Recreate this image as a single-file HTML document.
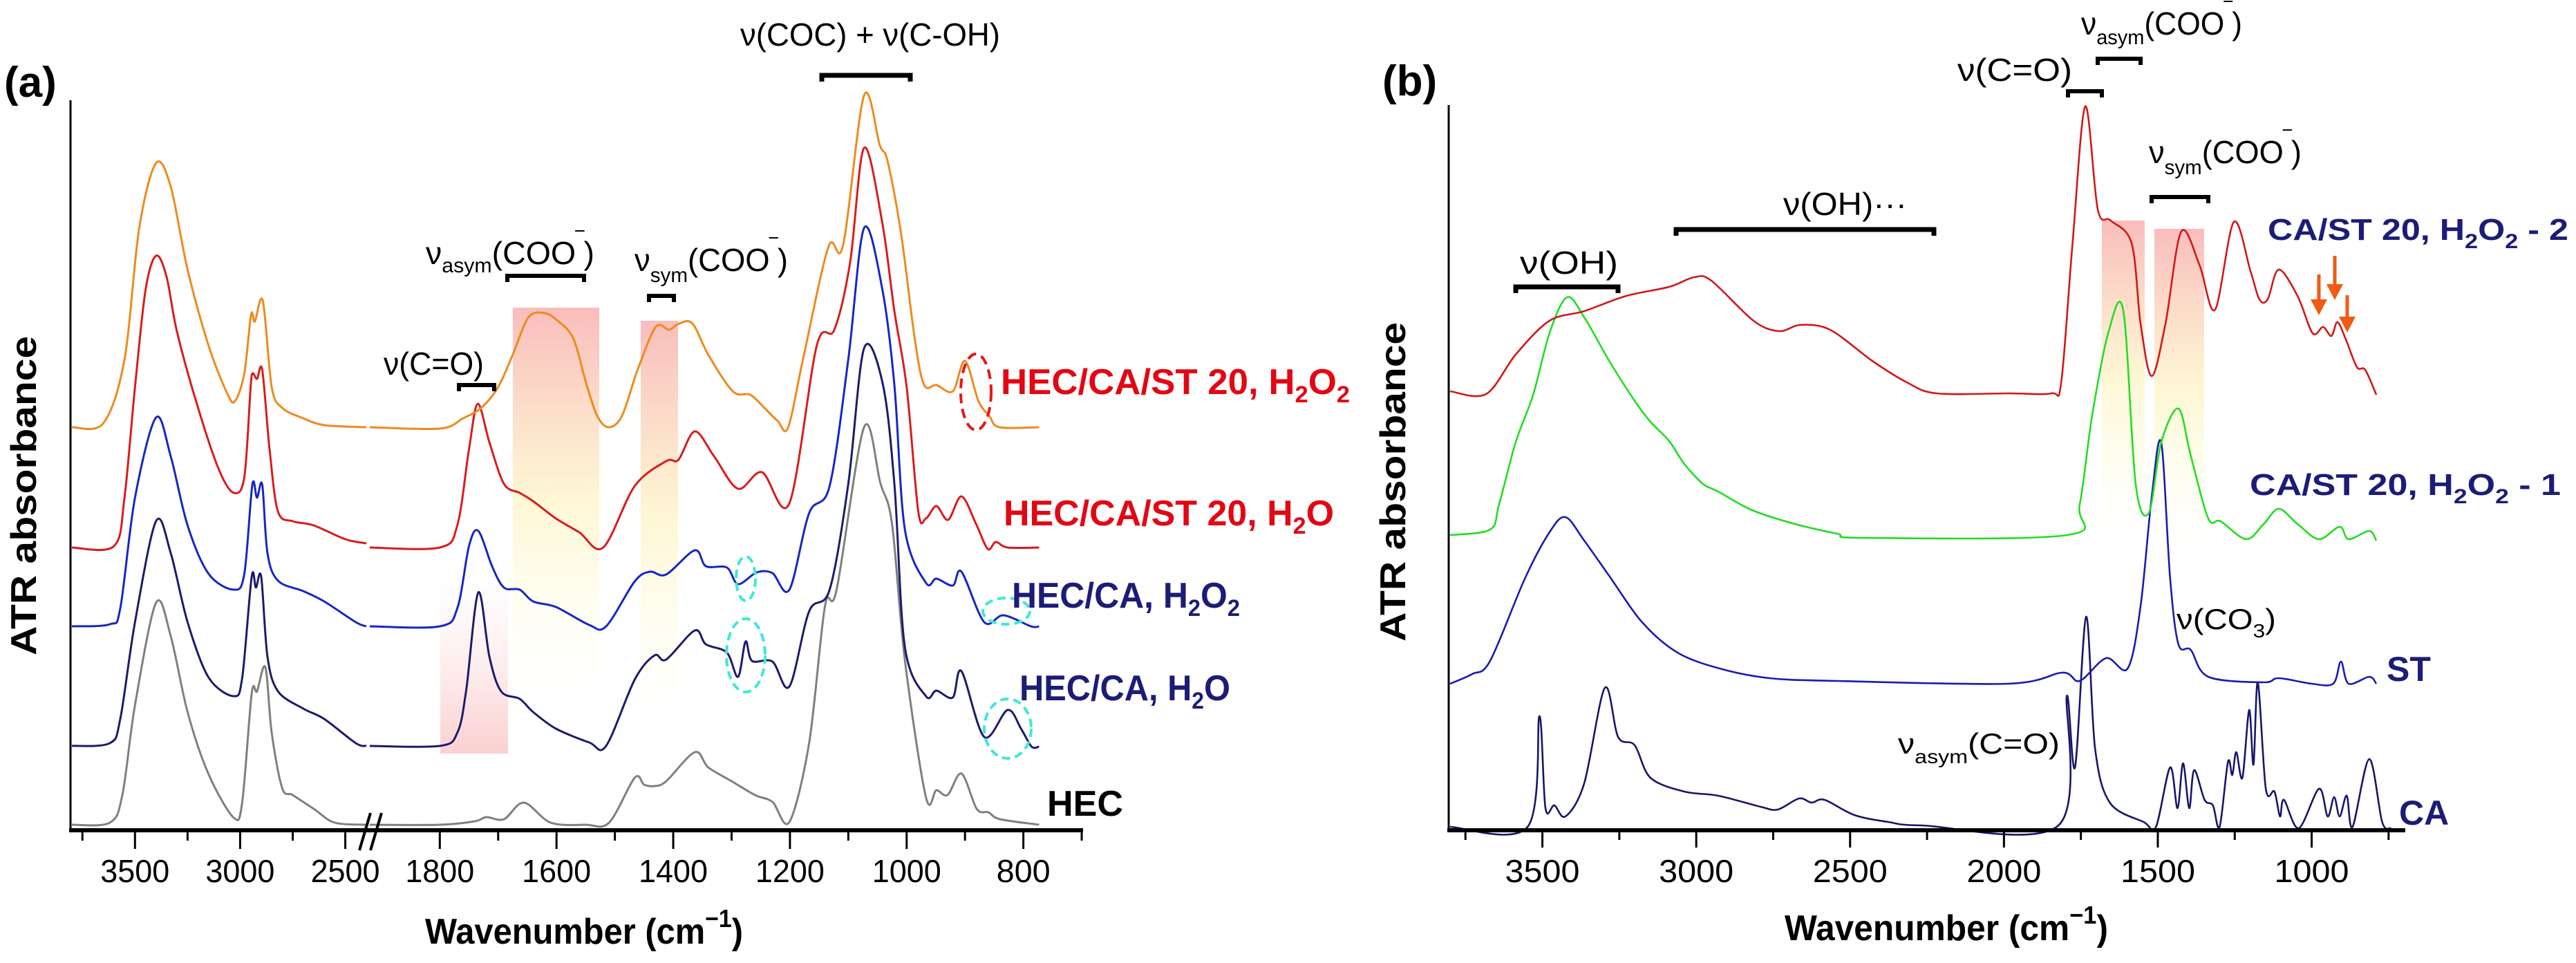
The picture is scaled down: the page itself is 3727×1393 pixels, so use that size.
<!DOCTYPE html>
<html><head><meta charset="utf-8">
<style>
html,body{margin:0;padding:0;background:#fff;}
svg{display:block;font-family:"Liberation Sans",Arial,sans-serif;}
</style></head>
<body>
<svg id="fig" width="3727" height="1393" viewBox="0 0 3727 1393" xmlns="http://www.w3.org/2000/svg">
<defs>
<linearGradient id="gPinkDown" x1="0" y1="0" x2="0" y2="1">
<stop offset="0" stop-color="#f7a6a6" stop-opacity="0.75"/>
<stop offset="0.5" stop-color="#fdf2b8" stop-opacity="0.6"/>
<stop offset="1" stop-color="#ffffe0" stop-opacity="0"/>
</linearGradient>
<linearGradient id="gPinkUp" x1="0" y1="1" x2="0" y2="0">
<stop offset="0" stop-color="#f8b0b0" stop-opacity="0.6"/>
<stop offset="1" stop-color="#fde0e0" stop-opacity="0"/>
</linearGradient>
</defs>
<g id="shadesA"></g>
<g id="shadesB"></g>
<g id="seriesA"></g>
<g id="seriesB"></g>
<g id="axesA"></g>
<g id="axesB"></g>

<text x="6" y="140" font-size="62" font-weight="bold">(a)</text>
<text x="2000" y="138" font-size="62" font-weight="bold">(b)</text>

<text transform="translate(52,717) rotate(-90)" text-anchor="middle" font-size="52" font-weight="bold" textLength="462" lengthAdjust="spacingAndGlyphs">ATR absorbance</text>
<text transform="translate(2033,697) rotate(-90)" text-anchor="middle" font-size="52" font-weight="bold" textLength="462" lengthAdjust="spacingAndGlyphs">ATR absorbance</text>
<text x="615" y="1365" font-size="52" font-weight="bold" textLength="460" lengthAdjust="spacingAndGlyphs">Wavenumber (cm<tspan font-size="36" dy="-24">−1</tspan><tspan dy="24">)</tspan></text>
<text x="2582" y="1360" font-size="52" font-weight="bold" textLength="468" lengthAdjust="spacingAndGlyphs">Wavenumber (cm<tspan font-size="36" dy="-24">−1</tspan><tspan dy="24">)</tspan></text>

<g font-size="46">
<text x="1071" y="66" textLength="376" lengthAdjust="spacingAndGlyphs">ν(COC) + ν(C-OH)</text>
<path d="M1189,118 V109 H1317 V118" fill="none" stroke="#000" stroke-width="7"/>
<text x="555" y="542" textLength="145" lengthAdjust="spacingAndGlyphs">ν(C=O)</text>
<path d="M664,566 V557 H715 V566" fill="none" stroke="#000" stroke-width="6"/>
<text x="616" y="382" textLength="244" lengthAdjust="spacingAndGlyphs">ν<tspan font-size="30" dy="12">asym</tspan><tspan dy="-12">(COO</tspan><tspan font-size="34" dy="-22">‾</tspan><tspan dy="22">)</tspan></text>
<path d="M734,408 V399 H845 V408" fill="none" stroke="#000" stroke-width="6"/>
<text x="918" y="392" textLength="222" lengthAdjust="spacingAndGlyphs">ν<tspan font-size="30" dy="16">sym</tspan><tspan dy="-16">(COO</tspan><tspan font-size="34" dy="-22">‾</tspan><tspan dy="22">)</tspan></text>
<path d="M939,437 V428 H975 V437" fill="none" stroke="#000" stroke-width="6"/>
</g>
<ellipse cx="1412" cy="567" rx="22" ry="55" fill="none" stroke="#e51616" stroke-width="4" stroke-dasharray="14,8"/>
<ellipse cx="1079" cy="837" rx="14" ry="32" fill="none" stroke="#3ee8d8" stroke-width="4" stroke-dasharray="12,7"/>
<ellipse cx="1079" cy="948" rx="28" ry="53" fill="none" stroke="#3ee8d8" stroke-width="4" stroke-dasharray="12,7"/>
<ellipse cx="1456" cy="884" rx="34" ry="19" fill="none" stroke="#3ee8d8" stroke-width="4" stroke-dasharray="12,7"/>
<ellipse cx="1458" cy="1054" rx="34" ry="43" fill="none" stroke="#3ee8d8" stroke-width="4" stroke-dasharray="12,7"/>

<g font-weight="bold" font-size="52">
<text x="1448" y="570" fill="#e30613" textLength="505" lengthAdjust="spacingAndGlyphs">HEC/CA/ST 20, H<tspan font-size="34" dy="12">2</tspan><tspan dy="-12">O</tspan><tspan font-size="34" dy="12">2</tspan></text>
<text x="1452" y="760" fill="#e30613" textLength="478" lengthAdjust="spacingAndGlyphs">HEC/CA/ST 20, H<tspan font-size="34" dy="12">2</tspan><tspan dy="-12">O</tspan></text>
<text x="1464" y="879" fill="#1c1c78" textLength="330" lengthAdjust="spacingAndGlyphs">HEC/CA, H<tspan font-size="34" dy="12">2</tspan><tspan dy="-12">O</tspan><tspan font-size="34" dy="12">2</tspan></text>
<text x="1475" y="1013" fill="#1c1c78" textLength="305" lengthAdjust="spacingAndGlyphs">HEC/CA, H<tspan font-size="34" dy="12">2</tspan><tspan dy="-12">O</tspan></text>
<text x="1515" y="1180" fill="#000" textLength="110" lengthAdjust="spacingAndGlyphs">HEC</text>
</g>

<g font-size="46">
<text x="2199" y="396" textLength="142" lengthAdjust="spacingAndGlyphs">ν(OH)</text>
<path d="M2193,424 V415 H2341 V424" fill="none" stroke="#000" stroke-width="7"/>
<text x="2580" y="311" textLength="179" lengthAdjust="spacingAndGlyphs">ν(OH)···</text>
<path d="M2425,341 V332 H2798 V341" fill="none" stroke="#000" stroke-width="7"/>
<text x="2832" y="117" textLength="166" lengthAdjust="spacingAndGlyphs">ν(C=O)</text>
<path d="M2992,141 V132 H3041 V141" fill="none" stroke="#000" stroke-width="6"/>
<text x="3011" y="50" textLength="233" lengthAdjust="spacingAndGlyphs">ν<tspan font-size="30" dy="14">asym</tspan><tspan dy="-14">(COO</tspan><tspan font-size="34" dy="-22">‾</tspan><tspan dy="22">)</tspan></text>
<path d="M3035,94 V85 H3097 V94" fill="none" stroke="#000" stroke-width="6"/>
<text x="3109" y="236" textLength="221" lengthAdjust="spacingAndGlyphs">ν<tspan font-size="30" dy="16">sym</tspan><tspan dy="-16">(COO</tspan><tspan font-size="34" dy="-22">‾</tspan><tspan dy="22">)</tspan></text>
<path d="M3113,294 V285 H3195 V294" fill="none" stroke="#000" stroke-width="6"/>
<text x="3149" y="910" font-size="42" textLength="144" lengthAdjust="spacingAndGlyphs">ν(CO<tspan font-size="28" dy="12">3</tspan><tspan dy="-12">)</tspan></text>
<text x="2746" y="1090" font-size="42" textLength="234" lengthAdjust="spacingAndGlyphs">ν<tspan font-size="28" dy="14">asym</tspan><tspan dy="-14">(C=O)</tspan></text>
</g>
<g stroke="#f05a14" fill="#f05a14">
<line x1="3355" y1="397" x2="3355" y2="440" stroke-width="5"/><path d="M3343,433 L3367,433 L3355,456 Z" stroke="none"/>
<line x1="3378" y1="370" x2="3378" y2="418" stroke-width="5"/><path d="M3366,411 L3390,411 L3378,434 Z" stroke="none"/>
<line x1="3396" y1="427" x2="3396" y2="465" stroke-width="5"/><path d="M3384,458 L3408,458 L3396,481 Z" stroke="none"/>
</g>

<g font-weight="bold" font-size="44" fill="#1c1c78">
<text x="3281" y="347" textLength="435" lengthAdjust="spacingAndGlyphs">CA/ST 20, H<tspan font-size="30" dy="12">2</tspan><tspan dy="-12">O</tspan><tspan font-size="30" dy="12">2</tspan><tspan dy="-12"> - 2</tspan></text>
<text x="3255" y="716" textLength="450" lengthAdjust="spacingAndGlyphs">CA/ST 20, H<tspan font-size="30" dy="12">2</tspan><tspan dy="-12">O</tspan><tspan font-size="30" dy="12">2</tspan><tspan dy="-12">  - 1</tspan></text>
<text x="3453" y="985" font-size="50">ST</text>
<text x="3471" y="1193" font-size="50">CA</text>
</g>
</svg>
<script>
const aOrangeWnL = [3800,3650,3550,3480,3400,3330,3250,3150,3060,3024,2980,2948,2930,2892,2850,2800,2700,2600,2400];
const aOrangeAbL = [5.82,5.88,6.80,8.70,9.64,9.30,8.10,7.00,6.30,6.20,6.60,7.45,7.35,7.65,6.40,6.10,5.95,5.85,5.82];
const aOrangeWnR = [1920,1800,1760,1729,1700,1675,1648,1620,1598,1571,1548,1530,1511,1488,1461,1430,1407,1390,1367,1340,1298,1268,1245,1221,1203,1176,1134,1109,1073,1046,1033,1010,986,970,949,921,900,877,858,841,773];
const aOrangeAbR = [5.82,5.80,5.95,6.10,6.40,6.87,7.41,7.47,7.36,7.10,6.42,5.98,5.82,5.98,6.65,7.27,7.23,7.32,7.32,6.87,6.34,6.29,6.11,5.91,5.82,6.87,8.43,8.45,10.62,9.90,9.68,8.65,7.09,6.43,6.43,6.34,6.78,6.20,5.98,5.82,5.82];

const aRedWnL = [3800,3600,3550,3500,3450,3400,3350,3300,3200,3100,3030,2980,2950,2940,2920,2895,2860,2820,2750,2650,2500,2400];
const aRedAbL = [4.08,4.10,4.80,6.40,7.80,8.30,8.00,7.20,6.10,5.20,4.87,5.10,6.40,6.60,6.52,6.65,5.50,4.60,4.46,4.40,4.20,4.14];
const aRedWnR = [1920,1800,1770,1750,1735,1715,1690,1663,1640,1601,1561,1520,1466,1412,1391,1363,1330,1289,1248,1201,1154,1124,1097,1073,1042,1021,1000,980,967,949,929,906,881,861,847,827,773];
const aRedAbR = [4.08,4.08,4.40,5.50,6.16,5.60,5.00,4.87,4.75,4.50,4.30,4.08,4.97,5.33,5.35,5.76,5.40,4.93,5.17,4.72,7.00,7.23,8.20,9.86,8.79,7.50,6.40,4.60,4.50,4.68,4.48,4.82,4.42,4.06,4.16,4.08,4.08];

const aBlueWnL = [3800,3620,3570,3500,3400,3330,3250,3150,3030,2980,2942,2920,2895,2870,2820,2700,2600,2450,2400];
const aBlueAbL = [2.94,2.97,3.20,4.80,5.96,5.40,4.40,3.70,3.47,3.70,4.99,4.80,4.99,4.00,3.60,3.45,3.30,3.00,2.94];
const aBlueWnR = [1920,1800,1770,1750,1734,1710,1690,1663,1640,1601,1544,1515,1466,1440,1412,1363,1344,1308,1289,1257,1230,1201,1167,1132,1100,1073,1042,1021,1003,967,949,921,906,867,834,787,773];
const aBlueAbR = [2.94,2.94,3.20,4.10,4.32,3.80,3.50,3.47,3.30,3.22,2.96,2.94,3.59,3.73,3.69,4.04,3.81,3.79,3.55,3.72,3.71,3.47,4.58,4.97,6.80,8.70,7.83,6.43,4.34,3.57,3.63,3.53,3.73,3.00,3.10,2.94,2.94];

const aNavyWnL = [3800,3620,3570,3500,3400,3330,3250,3150,3030,2990,2945,2925,2900,2870,2820,2700,2600,2450,2400];
const aNavyAbL = [1.21,1.25,1.60,3.00,4.46,4.00,3.00,2.20,1.93,2.20,3.66,3.50,3.66,2.50,2.00,1.75,1.60,1.25,1.21];
const aNavyWnR = [1920,1800,1770,1755,1734,1715,1695,1663,1640,1601,1544,1515,1466,1432,1412,1363,1344,1308,1289,1276,1265,1230,1201,1167,1132,1100,1073,1041,1021,1003,967,949,921,906,867,827,804,786,773];
const aNavyAbR = [1.21,1.21,1.40,2.00,3.43,2.50,2.00,1.89,1.70,1.46,1.26,1.21,2.17,2.52,2.46,2.88,2.68,2.56,2.21,2.72,2.44,2.43,2.07,3.16,3.47,5.00,6.96,6.45,5.00,2.64,1.93,2.01,1.91,2.29,1.34,1.73,1.46,1.20,1.20];

const aGrayWnL = [3800,3620,3560,3500,3400,3330,3250,3150,3030,2990,2945,2920,2880,2850,2800,2750,2650,2550,2400];
const aGrayAbL = [0.07,0.10,0.50,1.80,3.28,2.80,1.70,0.80,0.17,0.40,1.97,2.00,2.35,1.40,0.60,0.50,0.30,0.10,0.07];
const aGrayWnR = [1920,1800,1740,1720,1690,1656,1610,1550,1510,1466,1450,1432,1412,1363,1340,1300,1260,1230,1201,1167,1140,1120,1073,1045,1025,1003,967,949,930,906,880,860,840,773];
const aGrayAbR = [0.07,0.07,0.12,0.18,0.15,0.39,0.10,0.07,0.10,0.75,0.65,0.63,0.70,1.12,0.90,0.70,0.50,0.40,0.11,1.26,3.23,3.47,5.82,5.01,4.42,2.45,0.47,0.57,0.50,0.81,0.30,0.25,0.15,0.07];

const aTickMajor = [3500,3000,2500,1800,1600,1400,1200,1000,800];
const aTickMinor = [3750,3250,2750,1700,1500,1300,1100,900,700];

const bRedWn = [3800,3683,3587,3477,3364,3227,3088,3007,2951,2814,2731,2661,2565,2428,2316,2219,1985,1846,1814,1778,1736,1695,1653,1585,1556,1520,1475,1424,1364,1314,1253,1199,1170,1143,1107,1046,997,963,936,916,889,853,826,790];
const bRedAb = [6.34,6.30,6.87,7.36,7.50,7.72,7.85,7.99,7.94,7.36,7.21,7.30,7.23,6.78,6.47,6.31,6.31,6.31,6.47,8.43,10.46,8.97,8.81,8.48,7.32,6.56,7.32,8.65,8.16,7.52,8.79,8.08,7.67,7.67,8.10,7.72,7.18,7.27,7.14,7.34,7.09,6.69,6.65,6.29];

const bGreenWn = [3800,3670,3641,3587,3530,3477,3420,3364,3283,3200,3149,3088,3039,2978,2929,2818,2679,2542,2459,1796,1754,1713,1660,1612,1572,1529,1489,1433,1393,1336,1296,1213,1156,1107,1046,976,909,880,813,790];
const bGreenAb = [4.26,4.34,4.70,5.60,6.29,7.18,7.70,7.41,6.78,6.20,5.90,5.62,5.29,5.00,4.89,4.62,4.42,4.28,4.22,4.26,4.70,6.00,7.20,7.50,5.00,4.58,5.60,6.09,5.41,4.50,4.46,4.20,4.42,4.64,4.42,4.20,4.38,4.20,4.32,4.18];

const bStWn = [3800,3728,3670,3557,3477,3425,3364,3283,3176,3061,2924,2762,2542,1985,1810,1754,1668,1598,1556,1520,1489,1460,1433,1393,1336,1156,1107,1000,930,905,880,813,790];
const bStAb = [2.11,2.25,2.44,3.63,4.30,4.52,4.18,3.67,3.00,2.56,2.33,2.19,2.15,2.11,2.27,2.15,2.48,2.33,3.23,4.81,5.60,3.63,2.68,2.60,2.21,2.13,2.19,2.11,2.11,2.43,2.11,2.21,2.11];

const bCaWn = [3800,3548,3510,3490,3461,3425,3364,3297,3254,3200,3149,3039,2929,2791,2735,2666,2625,2583,2486,2376,2266,1823,1796,1769,1733,1704,1656,1546,1506,1460,1436,1418,1398,1382,1348,1321,1299,1272,1258,1245,1225,1203,1189,1175,1149,1121,1103,1090,1042,976,948,927,909,886,867,813,771,743];
const bCaAb = [0.04,0.04,1.64,0.31,0.35,0.19,0.67,2.05,1.34,1.22,0.75,0.55,0.49,0.33,0.29,0.45,0.39,0.43,0.21,0.11,0.06,0.06,1.93,0.90,3.08,1.18,0.39,0.11,0.04,0.90,0.31,0.96,0.31,0.86,0.43,0.35,0.04,0.98,0.79,1.12,0.75,1.73,0.94,2.13,0.59,0.55,0.19,0.43,0.02,0.59,0.19,0.47,0.19,0.49,0.04,1.02,0.11,0.02];

const bTickMajor = [3500,3000,2500,2000,1500,1000];
const bTickMinor = [3750,3250,2750,2250,1750,1250,750];

const NS = "http://www.w3.org/2000/svg";
const AXIS_Y = 1200;
function yAbs(a){ return AXIS_Y - a*100; }
function xA(wn){ return wn >= 2200 ? 104 + (3800-wn)*426/1400 : 535 + (1920-wn)*0.8443; }
function xB(wn){ return 2098 + (3800-wn)*0.4452; }
function mk(tag, attrs, parent){
  const e = document.createElementNS(NS, tag);
  for (const k in attrs) e.setAttribute(k, attrs[k]);
  parent.appendChild(e);
  return e;
}
function pathD(wns, abs, xf){
  const P = wns.map((w,i)=>[xf(w), yAbs(abs[i])]);
  let d = 'M'+P[0][0].toFixed(1)+','+P[0][1].toFixed(1);
  const t = 0.16;
  for (let i=0;i<P.length-1;i++){
    const p0 = P[Math.max(0,i-1)], p1 = P[i], p2 = P[i+1], p3 = P[Math.min(P.length-1,i+2)];
    const c1x = p1[0] + (p2[0]-p0[0])*t, c1y = p1[1] + (p2[1]-p0[1])*t;
    const c2x = p2[0] - (p3[0]-p1[0])*t, c2y = p2[1] - (p3[1]-p1[1])*t;
    d += ' C'+c1x.toFixed(1)+','+c1y.toFixed(1)+' '+c2x.toFixed(1)+','+c2y.toFixed(1)+' '+p2[0].toFixed(1)+','+p2[1].toFixed(1);
  }
  return d;
}
function drawSeries(parent, name, wns, abs, xf, color, sw){
  const p = mk('path', {d: pathD(wns, abs, xf), fill:'none', stroke: color, 'stroke-width': sw, 'stroke-linejoin':'round'}, parent);
  
  
}

const shA = document.getElementById('shadesA');
let r;
r = mk('rect',{x:742,y:445,width:125,height:560,fill:'url(#gPinkDown)'},shA);


r = mk('rect',{x:927,y:464,width:54,height:580,fill:'url(#gPinkDown)'},shA);


r = mk('rect',{x:637,y:820,width:98,height:270,fill:'url(#gPinkUp)'},shA);


const shB = document.getElementById('shadesB');
r = mk('rect',{x:3041,y:319,width:62,height:460,fill:'url(#gPinkDown)'},shB);


r = mk('rect',{x:3117,y:331,width:72,height:470,fill:'url(#gPinkDown)'},shB);



const sA = document.getElementById('seriesA');
drawSeries(sA,'series-hec-left',aGrayWnL,aGrayAbL,xA,'#7f7f7f',3);
drawSeries(sA,'series-hec-right',aGrayWnR,aGrayAbR,xA,'#7f7f7f',3);
drawSeries(sA,'series-hec-ca-h2o-left',aNavyWnL,aNavyAbL,xA,'#1b1b6e',3);
drawSeries(sA,'series-hec-ca-h2o-right',aNavyWnR,aNavyAbR,xA,'#1b1b6e',3);
drawSeries(sA,'series-hec-ca-h2o2-left',aBlueWnL,aBlueAbL,xA,'#1626c4',3);
drawSeries(sA,'series-hec-ca-h2o2-right',aBlueWnR,aBlueAbR,xA,'#1626c4',3);
drawSeries(sA,'series-hec-ca-st-h2o-left',aRedWnL,aRedAbL,xA,'#d91c1c',3);
drawSeries(sA,'series-hec-ca-st-h2o-right',aRedWnR,aRedAbR,xA,'#d91c1c',3);
drawSeries(sA,'series-hec-ca-st-h2o2-left',aOrangeWnL,aOrangeAbL,xA,'#ee8a1e',3);
drawSeries(sA,'series-hec-ca-st-h2o2-right',aOrangeWnR,aOrangeAbR,xA,'#ee8a1e',3);

const sB = document.getElementById('seriesB');
drawSeries(sB,'series-ca',bCaWn,bCaAb,xB,'#16166a',2.6);
drawSeries(sB,'series-st',bStWn,bStAb,xB,'#1a1ab0',2.6);
drawSeries(sB,'series-ca-st-h2o2-1',bGreenWn,bGreenAb,xB,'#22dd22',2.6);
drawSeries(sB,'series-ca-st-h2o2-2',bRedWn,bRedAb,xB,'#d01818',2.6);

const axA = document.getElementById('axesA');
let e;
e = mk('line',{x1:102,y1:145,x2:102,y2:1202,stroke:'#000','stroke-width':3},axA);


e = mk('line',{x1:100,y1:1201,x2:1567,y2:1201,stroke:'#000','stroke-width':6},axA);


e = mk('path',{d:'M520,1230 L536,1176 M536,1230 L552,1176',stroke:'#000','stroke-width':4,fill:'none'},axA);


aTickMajor.forEach(t=>{
  const x = xA(t);
  const l = mk('line',{x1:x,y1:1201,x2:x,y2:1228,stroke:'#000','stroke-width':3},axA);
  
  
  const tx = mk('text',{x:x,y:1276,'text-anchor':'middle','font-size':46,textLength:(String(t).length===3?78:100),lengthAdjust:'spacingAndGlyphs'},axA);
  tx.textContent = t;
  
  
});
aTickMinor.forEach(t=>{
  const x = xA(t);
  const l = mk('line',{x1:x,y1:1201,x2:x,y2:1216,stroke:'#000','stroke-width':3},axA);
  
  
});

const axB = document.getElementById('axesB');
e = mk('line',{x1:2096,y1:152,x2:2096,y2:1202,stroke:'#000','stroke-width':3},axB);


e = mk('line',{x1:2094,y1:1201,x2:3480,y2:1201,stroke:'#000','stroke-width':6},axB);


bTickMajor.forEach(t=>{
  const x = xB(t);
  const l = mk('line',{x1:x,y1:1201,x2:x,y2:1226,stroke:'#000','stroke-width':3},axB);
  
  
  const tx = mk('text',{x:x,y:1276,'text-anchor':'middle','font-size':46,textLength:108,lengthAdjust:'spacingAndGlyphs'},axB);
  tx.textContent = t;
  
  
});
bTickMinor.forEach(t=>{
  const x = xB(t);
  const l = mk('line',{x1:x,y1:1201,x2:x,y2:1215,stroke:'#000','stroke-width':3},axB);
  
  
});
</script>
</body></html>
